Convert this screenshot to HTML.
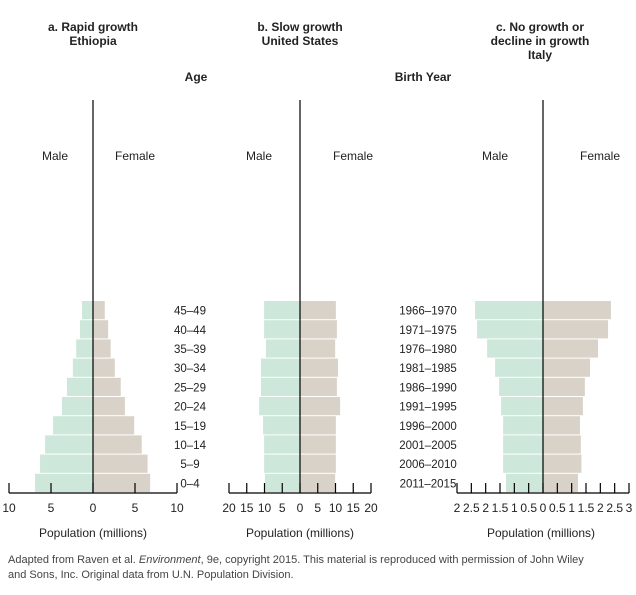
<!DOCTYPE html>
<html><head><meta charset="utf-8"><style>
body{margin:0;background:#fff;}
svg text{font-family:"Liberation Sans",sans-serif;fill:#222;}
.f{position:absolute;left:8px;top:553px;width:590px;font:11px/15px "Liberation Sans",sans-serif;color:#444;}
</style></head><body>
<div style="position:relative;width:636px;height:590px;">
<svg id="c" width="636" height="590">
<g font-size="12" font-weight="bold" text-anchor="middle">
<text x="93" y="31">a. Rapid growth<tspan x="93" dy="14">Ethiopia</tspan></text>
<text x="300" y="31">b.  Slow growth<tspan x="300" dy="14">United States</tspan></text>
<text x="540" y="31">c.  No growth or<tspan x="540" dy="14">decline in growth</tspan><tspan x="540" dy="14">Italy</tspan></text>
<text x="196" y="81">Age</text>
<text x="423" y="81">Birth Year</text>
</g>
<g font-size="12" text-anchor="middle">
<text x="55" y="160">Male</text>
<text x="135" y="160">Female</text>
<text x="259" y="160">Male</text>
<text x="353" y="160">Female</text>
<text x="495" y="160">Male</text>
<text x="600" y="160">Female</text>
<text x="93" y="537">Population (millions)</text>
<text x="300" y="537">Population (millions)</text>
<text x="541" y="537">Population (millions)</text>
</g>
</svg>
<div class="f">Adapted from Raven et al. <i>Environment</i>, 9e, copyright 2015. This material is reproduced with permission of John Wiley and Sons, Inc. Original data from U.N. Population Division.</div>
</div>
<script>
const ages=["45–49","40–44","35–39","30–34","25–29","20–24","15–19","10–14","5–9","0–4"];
const years=["1966–1970","1971–1975","1976–1980","1981–1985","1986–1990","1991–1995","1996–2000","2001–2005","2006–2010","2011–2015"];
const ethMale=[1.3,1.55,2.0,2.4,3.1,3.7,4.75,5.7,6.3,6.9];
const ethFemale=[1.4,1.8,2.1,2.6,3.3,3.8,4.9,5.8,6.5,6.8];
const usMale=[10.1,10.1,9.6,11,11,11.5,10.4,10.1,10.1,9.9];
const usFemale=[10.1,10.4,9.9,10.7,10.4,11.3,10.1,10.1,10.1,9.9];
const itMale=[2.37,2.3,1.95,1.67,1.53,1.46,1.39,1.39,1.39,1.29];
const itFemale=[2.37,2.27,1.92,1.64,1.46,1.39,1.29,1.32,1.34,1.22];
const ethTicks=["10","5","0","5","10"];
const usTicks=["20","15","10","5","0","5","10","15","20"];
const itTicks=["2","2.5","2","1.5","1","0.5","0","0.5","1","1.5","2","2.5","3"];
const svg=document.getElementById('c');const NS="http://www.w3.org/2000/svg";
function mk(t,a){const e=document.createElementNS(NS,t);for(const k in a)e.setAttribute(k,a[k]);svg.appendChild(e);return e;}
const top0=301,bot=493,rh=(bot-top0)/10;
function panel(id,cx,maxV,half,male,female,ticks){
  const sc=half/maxV;
  for(let i=0;i<10;i++){
    const y=top0+i*rh;
    let r=mk('rect',{x:cx-male[i]*sc,y:y,width:male[i]*sc,height:rh-1,fill:'#cde7da'});
    
    
    r=mk('rect',{x:cx,y:y,width:female[i]*sc,height:rh-1,fill:'#d9d2c8'});
    
    
  }
  let l=mk('line',{x1:cx,y1:100,x2:cx,y2:bot,stroke:'#000','stroke-width':1.2});
  
  
  l=mk('line',{x1:cx-half,y1:bot,x2:cx+half,y2:bot,stroke:'#000','stroke-width':1.2});
  
  
  const n=ticks.length;
  for(let j=0;j<n;j++){
    const x=cx-half+j*(2*half/(n-1));
    const t=mk('line',{x1:x,y1:bot-10,x2:x,y2:bot,stroke:'#000','stroke-width':1.2});
    
    
    const tx=mk('text',{x:x,y:512,'font-size':12,'text-anchor':'middle'});
    tx.textContent=ticks[j];
    
    
  }
}
panel('ethiopia',93,10,84,ethMale,ethFemale,ethTicks);
panel('us',300,20,71,usMale,usFemale,usTicks);
panel('italy',543,3,86,itMale,itFemale,itTicks);
for(let i=0;i<10;i++){
  const y=top0+i*rh+rh/2+4;
  let t=mk('text',{x:190,y:y,'font-size':11.5,'text-anchor':'middle'});t.textContent=ages[i];
  
  
  t=mk('text',{x:428,y:y,'font-size':11.5,'text-anchor':'middle'});t.textContent=years[i];
  
  
}
</script>
</body></html>
